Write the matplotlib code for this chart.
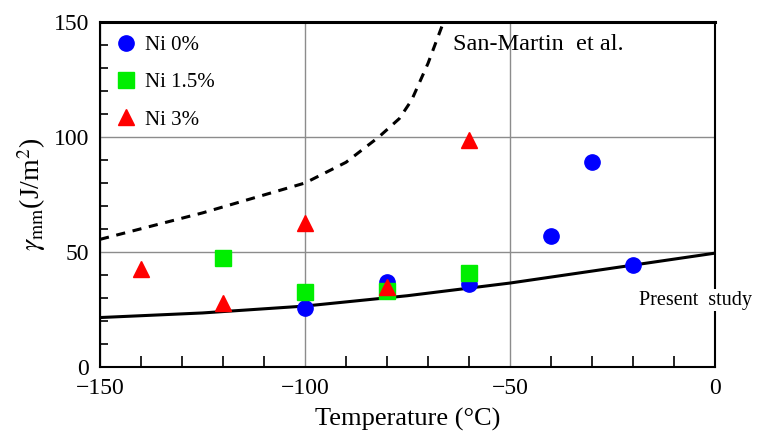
import numpy as np
import matplotlib
matplotlib.use("Agg")
import matplotlib.pyplot as plt
from matplotlib.ticker import MultipleLocator

plt.rcParams['font.family'] = ['Liberation Serif', 'DejaVu Serif']
plt.rcParams['mathtext.fontset'] = 'stix'

# measured points
t_ni0 = [-100, -80, -60, -40, -30, -20]
g_ni0 = [25.5, 37, 36, 57, 89, 44.5]
t_ni15 = [-120, -100, -80, -60]
g_ni15 = [47.5, 32.5, 33, 41]
t_ni3 = [-140, -120, -100, -80, -60]
g_ni3 = [42.5, 28, 62.5, 35, 98.5]

# present study curve
t_present = [-150, -125, -100, -75, -50, -25, 0]
g_present = [21.5, 23.5, 26.5, 31, 36.5, 43, 49.5]

# San-Martin et al. curve
t_sm = [-150, -125, -100, -90, -82, -77, -74, -70, -66]
g_sm = [55.5, 67, 80, 89, 100, 108, 116, 132, 151]

fig = plt.figure(figsize=(7.58, 4.41), dpi=100)
ax = fig.add_axes([100/758, 1-367/441, 615/758, 345/441])

ax.grid(True, which='major', color='#8c8c8c', lw=1)
ax.set_axisbelow(True)

ax.plot(t_present, g_present, '-', color='black', lw=2.2, zorder=3)
ax.plot(t_sm, g_sm, '--', color='black', lw=2.2, dashes=(3, 2.5), zorder=3)

ax.plot(t_ni0, g_ni0, 'o', color='#0000ff', ms=11, ls='none', label='Ni 0%', zorder=4)
ax.plot(t_ni15, g_ni15, 's', color='#00ee00', ms=12, ls='none', label='Ni 1.5%', zorder=5)
ax.plot(t_ni3, g_ni3, '^', color='#ff0000', ms=11, ls='none', label='Ni 3%', zorder=6)

ax.set_xlim(-150, 0)
ax.set_ylim(0, 150)
ax.xaxis.set_major_locator(MultipleLocator(50))
ax.xaxis.set_minor_locator(MultipleLocator(10))
ax.yaxis.set_major_locator(MultipleLocator(50))
ax.yaxis.set_minor_locator(MultipleLocator(10))
ax.tick_params(which='both', direction='in', top=False, right=False, labelsize=17)
ax.tick_params(which='major', length=0, pad=8)
ax.tick_params(axis='x', which='minor', length=8, width=1.2)
ax.tick_params(axis='y', which='minor', length=6, width=1.2)

for s in ax.spines.values():
    s.set_color('black')
    s.set_linewidth(1.5)
ax.spines['top'].set_linewidth(2.2)

ax.set_xlabel('Temperature (\u00b0C)', fontsize=19, labelpad=6)
ax.set_ylabel(r'$\gamma_{\rm mm}$(J/m$^2$)', fontsize=20, labelpad=4)

ax.legend(loc='upper left', frameon=False, fontsize=15, handletextpad=0.3,
          borderaxespad=0.25, labelspacing=0.85, handlelength=1.2)

ax.text(-64, 140, 'San-Martin  et al.', fontsize=17.5, va='center', ha='left', zorder=7)
ax.text(9, 29, 'Present  study', fontsize=14.5, va='center', ha='right',
        zorder=7, bbox=dict(facecolor='white', edgecolor='none', pad=1),
        clip_on=False)

fig.savefig('out.png', dpi=100)
